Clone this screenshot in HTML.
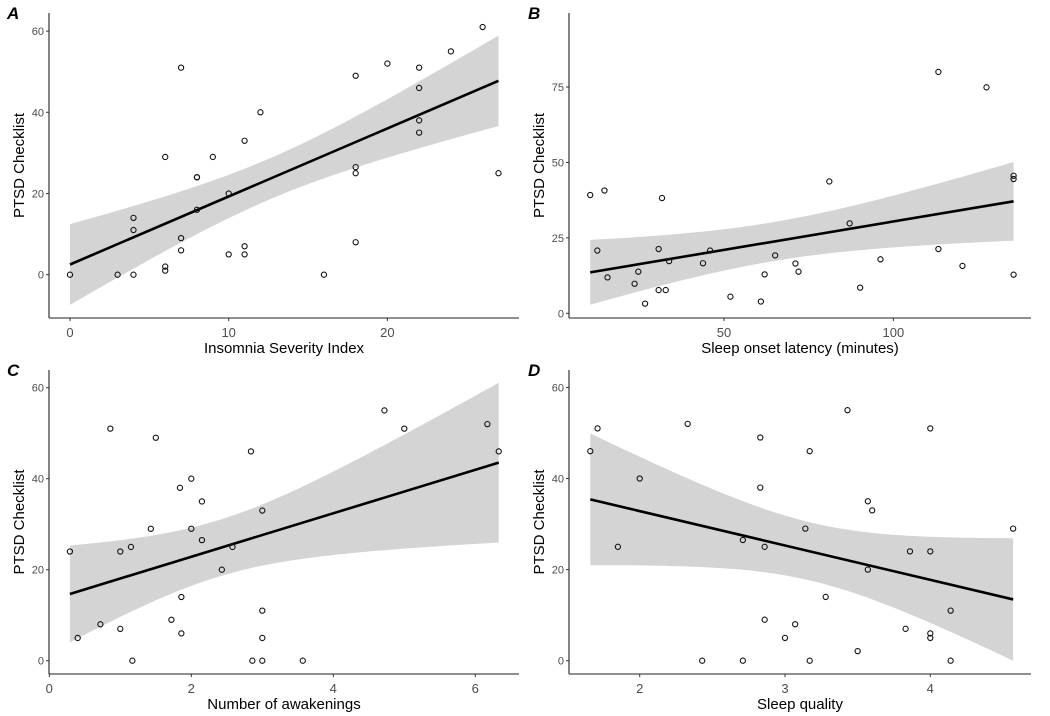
<!DOCTYPE html>
<html><head><meta charset="utf-8"><style>
body{margin:0;background:#fff;}
svg{display:block;font-family:"Liberation Sans",Arial,sans-serif;}
.tick{font-size:11px;fill:#4d4d4d;}
.xtick{font-size:13px;fill:#4d4d4d;}
.title{font-size:15px;fill:#000;}
.plab{font-size:17px;font-weight:bold;font-style:italic;fill:#000;}
</style></head><body>
<svg id="chart" width="1050" height="716"></svg>
<script>
// Panel A: Insomnia Severity Index vs PTSD
const isiX=[0,3,4,4,4,6,6,6,7,7,7,8,8,8,9,10,10,11,11,11,12,16,18,18,18,18,20,22,22,22,22,24,26,27];
const isiY=[0,0,0,11,14,1,2,29,51,9,6,24,24,16,29,20,5,33,7,5,40,0,49,26.5,25,8,52,51,46,38,35,55,61,25];
// Panel B: Sleep onset latency
const solX=[10.5,12.6,14.7,15.6,23.6,24.7,26.7,30.7,30.7,31.7,32.8,33.8,43.8,45.9,51.9,60.9,62,65.1,71.1,72,81.1,87.1,90.2,96.2,113.3,113.3,120.4,127.5,135.5,135.5,135.5];
const solY=[39.2,20.8,40.7,11.9,9.8,13.8,3.2,21.3,7.7,38.2,7.7,17.3,16.6,20.8,5.5,3.9,12.9,19.2,16.5,13.8,43.7,29.8,8.5,17.9,80,21.3,15.7,74.9,45.6,44.5,12.8];
// Panel C: Number of awakenings
const awkX=[0.29,0.4,0.72,0.86,1,1,1.15,1.17,1.43,1.5,1.72,1.84,1.86,1.86,2,2,2.15,2.15,2.43,2.58,2.84,2.86,3,3,3,3,3.57,4.72,5,6.17,6.33];
const awkY=[24,5,8,51,24,7,25,0,29,49,9,38,14,6,40,29,35,26.5,20,25,46,0,33,11,5,0,0,55,51,52,46];
// Panel D: Sleep quality
const sqX=[1.66,1.71,1.85,2,2.33,2.43,2.71,2.71,2.83,2.83,2.86,2.86,3,3.07,3.14,3.17,3.17,3.28,3.43,3.5,3.57,3.57,3.6,3.83,3.86,4,4,4,4,4.14,4.14,4.57];
const sqY=[46,51,25,40,52,0,26.5,0,49,38,25,9,5,8,29,46,0,14,55,2.1,35,20,33,7,24,51,24,6,5,11,0,29];
// Tick labels
const ticksAX=[0,10,20], ticksAY=[0,20,40,60];
const ticksBX=[50,100], ticksBY=[0,25,50,75];
const ticksCX=[0,2,4,6], ticksCY=[0,20,40,60];
const ticksDX=[2,3,4], ticksDY=[0,20,40,60];

const NS="http://www.w3.org/2000/svg";
const svg=document.getElementById('chart');
function mk(tag,attrs,parent){const e=document.createElementNS(NS,tag);for(const k in attrs)e.setAttribute(k,attrs[k]);(parent||svg).appendChild(e);return e;}

function panel(cfg){
  const g=mk('g',{});
  
  
  const sx=v=>cfg.x0+(v-cfg.xa)*cfg.xk;
  const sy=v=>cfg.y0-(v-cfg.ya)*cfg.yk;
  const X=cfg.xs,Y=cfg.ys,n=X.length;
  let mx=0,my=0;for(let i=0;i<n;i++){mx+=X[i];my+=Y[i];}mx/=n;my/=n;
  let sxx=0,sxy=0;for(let i=0;i<n;i++){sxx+=(X[i]-mx)**2;sxy+=(X[i]-mx)*(Y[i]-my);}
  const b=sxy/sxx,a=my-b*mx;
  let sse=0;for(let i=0;i<n;i++){sse+=(Y[i]-a-b*X[i])**2;}
  const s=Math.sqrt(sse/(n-2)),t=2.04;
  const xmin=Math.min(...X),xmax=Math.max(...X);
  let up=[],lo=[];
  for(let k=0;k<=80;k++){const x=xmin+(xmax-xmin)*k/80;const h=t*s*Math.sqrt(1/n+(x-mx)**2/sxx);const f=a+b*x;
    up.push(sx(x).toFixed(1)+','+sy(f+h).toFixed(1));lo.unshift(sx(x).toFixed(1)+','+sy(f-h).toFixed(1));}
  const band=mk('polygon',{points:up.concat(lo).join(' '),fill:'#d4d4d4'},g);
  
  
  const fit=mk('line',{x1:sx(xmin),y1:sy(a+b*xmin),x2:sx(xmax),y2:sy(a+b*xmax),stroke:'#000','stroke-width':2.6},g);
  
  
  for(let i=0;i<n;i++){
    const c=mk('circle',{cx:sx(X[i]),cy:sy(Y[i]),r:2.6,fill:'none',stroke:'#111','stroke-width':1.1},g);
    
    
  }
  const ax=mk('line',{x1:cfg.axL,y1:cfg.axB,x2:cfg.axR,y2:cfg.axB,stroke:'#222','stroke-width':1.1},g);
  
  
  const ay=mk('line',{x1:cfg.axL,y1:cfg.axT,x2:cfg.axL,y2:cfg.axB,stroke:'#222','stroke-width':1.1},g);
  
  
  cfg.tx.forEach(v=>{
    mk('line',{x1:sx(v),x2:sx(v),y1:cfg.axB,y2:cfg.axB+3,stroke:'#333'},g);
    const tl=mk('text',{x:sx(v),y:cfg.axB+19,'text-anchor':'middle',class:'xtick'},g);tl.textContent=v;
    
    
  });
  cfg.ty.forEach(v=>{
    mk('line',{x1:cfg.axL-3,x2:cfg.axL,y1:sy(v),y2:sy(v),stroke:'#333'},g);
    const tl=mk('text',{x:cfg.axL-5,y:sy(v)+4,'text-anchor':'end',class:'tick'},g);tl.textContent=v;
    
    
  });
  const xt=mk('text',{x:(cfg.axL+cfg.axR)/2,y:cfg.axB+35,'text-anchor':'middle',class:'title'},g);xt.textContent=cfg.xtitle;
  
  
  const yc=(cfg.axT+cfg.axB)/2;
  const yt=mk('text',{x:cfg.ytx,y:yc,'text-anchor':'middle',class:'title',transform:`rotate(-90 ${cfg.ytx} ${yc})`},g);yt.textContent='PTSD Checklist';
  
  
  const pl=mk('text',{x:cfg.plx,y:cfg.ply,class:'plab'},g);pl.textContent=cfg.label;
  
  
}

panel({name:'panel-a',label:'A',xs:isiX,ys:isiY,tx:ticksAX,ty:ticksAY,xtitle:'Insomnia Severity Index',
  x0:70,xa:0,xk:15.87,y0:274.7,ya:0,yk:4.06,axL:49,axR:519,axT:13,axB:318,ytx:24,plx:7,ply:19});
panel({name:'panel-b',label:'B',xs:solX,ys:solY,tx:ticksBX,ty:ticksBY,xtitle:'Sleep onset latency (minutes)',
  x0:724,xa:50,xk:3.387,y0:313.3,ya:0,yk:3.017,axL:569,axR:1031,axT:13,axB:318,ytx:544,plx:528,ply:19});
panel({name:'panel-c',label:'C',xs:awkX,ys:awkY,tx:ticksCX,ty:ticksCY,xtitle:'Number of awakenings',
  x0:49.3,xa:0,xk:71,y0:660.7,ya:0,yk:4.55,axL:49,axR:519,axT:370,axB:674,ytx:24,plx:7,ply:376});
panel({name:'panel-d',label:'D',xs:sqX,ys:sqY,tx:ticksDX,ty:ticksDY,xtitle:'Sleep quality',
  x0:639.7,xa:2,xk:145.3,y0:660.7,ya:0,yk:4.555,axL:569,axR:1031,axT:370,axB:674,ytx:544,plx:528,ply:376});
</script>
</body></html>
